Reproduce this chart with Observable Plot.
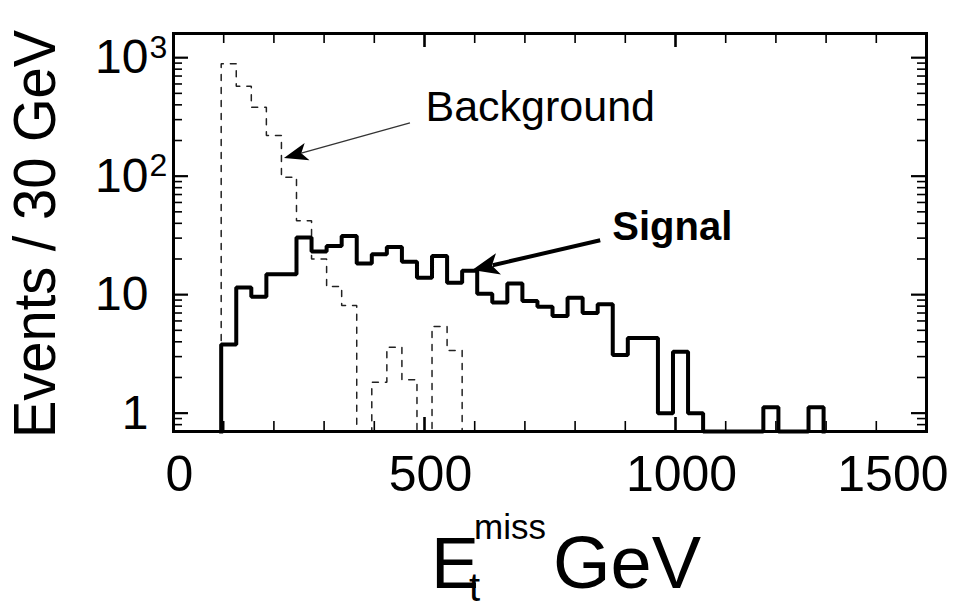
<!DOCTYPE html>
<html>
<head>
<meta charset="utf-8">
<script src="https://cdn.jsdelivr.net/npm/d3@7"></script>
<script src="https://cdn.jsdelivr.net/npm/@observablehq/plot@0.6"></script>
<style>
  html, body { margin: 0; padding: 0; background: #ffffff; }
  #chart svg { display: block; }
</style>
</head>
<body>
<div id="chart"></div>
<script>
// ---------------- data ----------------
const binStart = 95;     // GeV, lower edge of the first histogram bin
const binWidth = 30;     // GeV per bin ("Events / 30 GeV")

const signalCounts = [
  3.8, 11.5, 9.6, 14.9, 14.9, 30.3, 23.1, 25.8, 31.3, 18.3,
  21.9, 25.3, 19.0, 13.9, 21.2, 12.6, 15.9, 10.2, 8.6, 12.4,
  8.85, 7.9, 6.6, 9.4, 7.0, 8.3, 3.1, 4.3, 4.3, 1.0,
  3.3, 1.0, 0, 0, 0, 0, 1.12, 0, 0, 1.12
];
const backgroundCounts = [
  890, 574, 381, 220, 98, 42, 20, 11.7, 8.1, 0,
  1.82, 3.6, 1.91, 0, 5.38, 3.38
];

const xMinorTicks = [100, 200, 300, 400, 600, 700, 800, 900, 1100, 1200, 1300, 1400];
const xMajorTicks = [500, 1000];
const xTickLabels = [0, 500, 1000];
const xLastLabel = [1500];

const yMajorTicks = [1, 10, 100, 1000];
const yMinorTicks = [0.7, 0.8, 0.9, 2, 3, 4, 5, 6, 7, 8, 9,
  20, 30, 40, 50, 60, 70, 80, 90, 200, 300, 400, 500, 600, 700, 800, 900];
const yTickBase = ["1", "10", "10", "10"];
const yTickExp = ["", "", "2", "3"];

const labelText = ["Background", "Signal"];
const labelX = [502, 874];
const labelY = [294, 29.2];

const arrowX1 = [472, 851];
const arrowY1 = [279, 28.5];
const arrowX2 = [221, 596];
const arrowY2 = [141, 16];

const xDomain = [0, 1500];
const yDomain = [0.7, 1600];

// ---------------- layout ----------------
const W = 959, H = 608;
const mL = 173, mR = 33, mT = 33, mB = 177;
const innerW = W - mL - mR, innerH = H - mT - mB;
const FONT = "'Liberation Sans', Arial, Helvetica, sans-serif";

function stepPoints(counts, floor) {
  const pts = [{x: binStart, y: floor}];
  counts.forEach((c, i) => {
    const v = c > 0 ? c : floor;
    pts.push({x: binStart + i * binWidth, y: v});
    pts.push({x: binStart + (i + 1) * binWidth, y: v});
  });
  pts.push({x: binStart + counts.length * binWidth, y: floor});
  return pts;
}
const sigPts = stepPoints(signalCounts, yDomain[0]);
const bgPts = stepPoints(backgroundCounts, yDomain[0]);

const chart = Plot.plot({
  width: W, height: H,
  marginLeft: mL, marginRight: mR, marginTop: mT, marginBottom: mB,
  style: {fontFamily: FONT, background: "#ffffff", color: "#000000", overflow: "visible"},
  x: {domain: xDomain, axis: null},
  y: {type: "log", domain: yDomain, axis: null},
  marks: [
    // inward ticks on all four sides
    Plot.ruleY(yMajorTicks, {y: d => d, insetRight: innerW - 15, strokeWidth: 2.2, stroke: "#000"}),
    Plot.ruleY(yMajorTicks, {y: d => d, insetLeft: innerW - 15, strokeWidth: 2.2, stroke: "#000"}),
    Plot.ruleY(yMinorTicks, {y: d => d, insetRight: innerW - 9, strokeWidth: 1.6, stroke: "#000"}),
    Plot.ruleY(yMinorTicks, {y: d => d, insetLeft: innerW - 9, strokeWidth: 1.6, stroke: "#000"}),
    Plot.ruleX(xMinorTicks, {x: d => d, insetTop: innerH - 10, strokeWidth: 1.6, stroke: "#000"}),
    Plot.ruleX(xMinorTicks, {x: d => d, insetBottom: innerH - 10, strokeWidth: 1.6, stroke: "#000"}),
    Plot.ruleX(xMajorTicks, {x: d => d, insetTop: innerH - 14, strokeWidth: 2.6, stroke: "#000"}),
    Plot.ruleX(xMajorTicks, {x: d => d, insetBottom: innerH - 14, strokeWidth: 2.6, stroke: "#000"}),

    // histograms
    Plot.line(bgPts, {x: "x", y: "y", stroke: "#222", strokeWidth: 1.5,
      strokeDasharray: "6,7", strokeLinejoin: "miter"}),
    Plot.line(sigPts, {x: "x", y: "y", stroke: "#000", strokeWidth: 4,
      strokeLinejoin: "miter", strokeLinecap: "square"}),

    Plot.frame({stroke: "#000", strokeWidth: 3}),

    // tick labels
    Plot.text(xTickLabels, {x: d => d, text: d => String(d), frameAnchor: "bottom",
      lineAnchor: "top", dy: 24, dx: 6, fontSize: 50, fill: "#000"}),
    Plot.text(xLastLabel, {x: d => d, text: d => String(d), frameAnchor: "bottom",
      lineAnchor: "top", textAnchor: "end", dy: 24, dx: 22, fontSize: 50, fill: "#000"}),
    Plot.text(yMajorTicks, {y: d => d, text: (d, i) => yTickBase[i], frameAnchor: "left",
      textAnchor: "end", lineAnchor: "middle", dx: -25, fontSize: 48, fill: "#000"}),
    Plot.text(yMajorTicks, {y: d => d, text: (d, i) => yTickExp[i], frameAnchor: "left",
      textAnchor: "start", lineAnchor: "bottom", dx: -24, dy: 0, fontSize: 32, fill: "#000"}),

    // annotations
    Plot.text([0], {x: i => labelX[0], y: i => labelY[0], text: i => labelText[0],
      textAnchor: "start", lineAnchor: "bottom", fontSize: 43, fill: "#000"}),
    Plot.text([1], {x: i => labelX[1], y: i => labelY[1], text: i => labelText[1],
      textAnchor: "start", lineAnchor: "bottom", fontSize: 40, fontWeight: "bold", fill: "#000"})
  ]
});

document.getElementById("chart").appendChild(chart);

// ---------------- arrows (positioned through the plot's own scales) ----------------
const sx = chart.scale("x"), sy = chart.scale("y");
const svg = d3.select(chart);
const arrowStyle = [
  {w: 1.3, len: 24, wid: 18, color: "#333"},
  {w: 4, len: 27, wid: 22, color: "#000"}
];
const ag = svg.append("g").attr("class", "arrows");
arrowX1.forEach((_, i) => {
  const x1 = sx.apply(arrowX1[i]), y1 = sy.apply(arrowY1[i]);
  const x2 = sx.apply(arrowX2[i]), y2 = sy.apply(arrowY2[i]);
  const st = arrowStyle[i];
  const dx = x2 - x1, dy = y2 - y1, L = Math.hypot(dx, dy);
  const ux = dx / L, uy = dy / L, nx = -uy, ny = ux;
  const bx = x2 - ux * st.len, by = y2 - uy * st.len;
  ag.append("line")
    .attr("x1", x1).attr("y1", y1)
    .attr("x2", bx + ux * 6).attr("y2", by + uy * 6)
    .attr("stroke", st.color).attr("stroke-width", st.w);
  const notchX = bx + ux * st.len * 0.25, notchY = by + uy * st.len * 0.25;
  ag.append("path")
    .attr("d", `M${x2},${y2}L${bx + nx * st.wid / 2},${by + ny * st.wid / 2}L${notchX},${notchY}L${bx - nx * st.wid / 2},${by - ny * st.wid / 2}Z`)
    .attr("fill", "#000");
});

// ---------------- axis titles ----------------
const tg = svg.append("g").attr("font-family", FONT).attr("fill", "#000")
  .attr("text-anchor", "start");
tg.append("text")
  .attr("transform", "translate(55,234) rotate(-90) scale(0.95,1)")
  .attr("text-anchor", "middle")
  .attr("font-size", 59)
  .text("Events / 30 GeV");
const xt = tg.append("text").attr("x", 431).attr("y", 588).attr("font-size", 72);
xt.append("tspan").text("E");
xt.append("tspan").attr("x", 469).attr("y", 601).attr("font-size", 40).text("t");
xt.append("tspan").attr("x", 474).attr("y", 539).attr("font-size", 35).text("miss");
xt.append("tspan").attr("x", 553).attr("y", 588).attr("font-size", 74).text("GeV");
</script>
</body>
</html>
